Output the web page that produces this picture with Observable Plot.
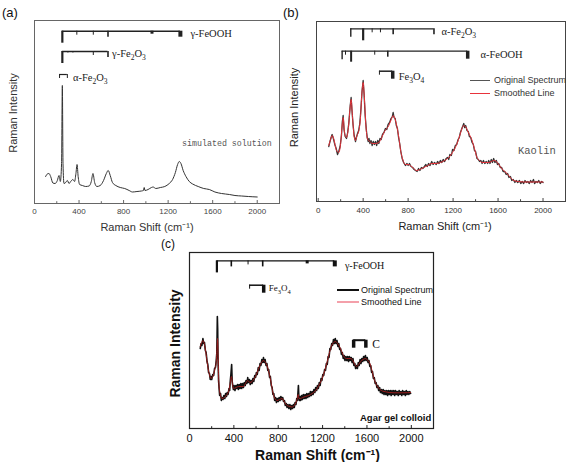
<!DOCTYPE html>
<html><head><meta charset="utf-8">
<script src="https://cdn.jsdelivr.net/npm/d3@7"></script>
<script src="https://cdn.jsdelivr.net/npm/@observablehq/plot@0.6"></script>
<style>
body{margin:0;background:#fff;}
#wrap{position:relative;width:567px;height:462px;overflow:hidden;font-family:"Liberation Sans",Arial,sans-serif;}
#wrap svg{position:absolute;}
.tag{position:absolute;font-size:13px;line-height:13px;color:#111;}
.leg{position:absolute;font-size:9px;line-height:9px;white-space:nowrap;}
.sw{position:absolute;height:0;}
</style></head><body><div id="wrap"></div>
<script>
// ---------- data ----------
const xTicks = [0, 400, 800, 1200, 1600, 2000];
const minorTicks = [200, 600, 1000, 1400, 1800];

// (a) simulated solution spectrum [wavenumber, intensity]
const specA = [[100,27],[115,29.5],[130,30],[145,27],[165,20.5],[185,20],[205,23],[220,28],[232,22],[243,40],[250,118],[256,40],[265,20],[280,21],[295,23],[310,20],[325,22],[345,24],[360,22],[372,30],[382,39],[392,27],[405,19],[430,18],[460,17],[490,17.5],[510,22],[525,30],[540,21],[560,17],[590,18],[620,23],[645,30],[662,33],[680,28],[700,21],[730,18],[770,16],[810,15],[850,13],[880,11.5],[920,12],[960,12.5],[978,13],[985,16],[992,13],[1020,14],[1050,16],[1065,16.5],[1090,15],[1130,16],[1170,17],[1210,20],[1240,24],[1265,31],[1285,39],[1300,42],[1315,40],[1335,33],[1360,27],[1390,22],[1420,19.5],[1470,17],[1520,15],[1570,14],[1620,11.5],[1680,10],[1750,9],[1800,8],[1860,7.5],[1920,7],[2000,6.5]];

// (b) kaolin: original (noisy) and smoothed spectra
const origB = [[94,55],[105,60],[115,64],[124,67],[135,63],[148,57],[160,53],[172,47],[183,50],[195,55],[207,66],[215,80],[222,86],[230,72],[240,65],[252,63],[262,69],[272,78],[285,96],[293,104],[300,92],[310,77],[320,66],[332,60],[340,64],[350,68],[360,71],[370,78],[380,92],[390,110],[400,121],[408,108],[418,86],[428,72],[436,64],[445,60],[452,63],[460,58],[470,61],[480,56],[490,60],[500,57],[510,60],[520,56],[530,61],[539,58],[550,63],[560,62],[572,67],[585,69],[598,73],[610,72],[622,77],[635,79],[648,83],[660,85],[667,89],[675,84],[685,83],[695,76],[705,73],[715,64],[725,58],[735,50],[747,43],[760,39],[776,36],[790,38],[800,36],[812,38],[826,35],[840,34],[854,32],[866,31],[880,30],[893,33],[905,31],[918,34],[930,33],[945,35],[958,37],[970,35],[982,38],[995,36],[1010,40],[1022,37],[1035,39],[1050,37],[1062,40],[1075,38],[1087,41],[1100,39],[1112,42],[1125,40],[1138,43],[1150,44],[1161,42],[1172,47],[1185,46],[1195,52],[1208,51],[1220,56],[1232,57],[1245,62],[1255,64],[1265,69],[1275,72],[1285,75],[1295,78],[1303,74],[1312,76],[1324,71],[1335,70],[1345,65],[1357,64],[1369,59],[1380,57],[1390,51],[1400,50],[1413,43],[1425,42],[1435,40],[1447,41],[1458,38],[1470,41],[1482,38],[1495,40],[1507,38],[1517,41],[1528,38],[1540,42],[1550,39],[1561,43],[1572,39],[1585,41],[1595,37],[1606,38],[1620,34],[1632,34],[1645,30],[1660,30],[1672,27],[1685,28],[1697,24],[1710,25],[1722,21],[1735,22],[1750,19],[1762,21],[1775,19],[1790,21],[1802,18],[1815,20],[1828,18],[1840,21],[1852,19],[1865,20],[1878,18],[1890,21],[1902,19],[1915,22],[1925,18],[1938,20],[1950,19],[1962,21],[1975,18],[1988,20],[2000,19]];
const specB = [[94,56],[110,62],[124,66],[140,62],[160,52],[183,49],[200,58],[215,78],[222,84],[235,68],[252,64],[270,75],[285,95],[293,102],[305,85],[320,65],[332,61],[345,66],[360,70],[375,82],[390,110],[400,119],[410,105],[425,75],[441,62],[460,60],[480,58],[510,58],[539,59],[565,64],[590,70],[628,76],[650,82],[667,86],[685,82],[702,74],[720,62],[735,50],[747,44],[776,37],[800,37],[820,36],[850,33],[874,31],[905,32],[939,34],[975,36],[1013,38],[1050,38],[1087,39],[1125,41],[1161,44],[1195,49],[1220,54],[1245,61],[1265,68],[1282,74],[1295,76],[1310,75],[1324,72],[1345,67],[1369,61],[1390,53],[1413,44],[1435,41],[1458,39],[1490,39],[1517,39],[1540,40],[1561,41],[1585,40],[1606,37],[1640,32],[1680,28],[1710,24],[1739,21],[1780,20],[1828,19.5],[1870,19.5],[1917,19.5],[1960,19.5],[2000,19.5]];

// (c) agar gel colloid: original (noisy) and smoothed spectra
const origC = [[97,80],[105,85],[112,83],[121,90],[128,85],[135,86],[143,78],[150,76],[158,67],[165,64],[172,56],[180,55],[187,49],[193,52],[200,49],[210,54],[218,53],[226,60],[234,61],[241,68],[246,75],[249,95],[251,112],[254,100],[257,72],[262,48],[267,40],[272,33],[280,35],[287,28],[293,31],[302,29],[310,33],[318,30],[326,35],[333,32],[340,36],[348,34],[356,40],[362,38],[368,48],[374,55],[380,64],[385,47],[390,43],[396,39],[402,43],[410,38],[418,43],[425,40],[433,44],[441,39],[448,44],[456,40],[463,45],[470,40],[478,45],[486,41],[494,46],[502,43],[510,48],[518,45],[525,51],[532,46],[540,49],[548,44],[556,48],[564,45],[572,50],[580,47],[588,53],[596,51],[603,56],[611,54],[620,61],[628,58],[636,65],[644,63],[652,69],[660,66],[667,71],[674,66],[682,69],[690,63],[698,65],[706,58],[714,59],[722,51],[729,52],[737,43],[745,41],[752,34],[760,35],[768,28],[776,31],[784,26],[792,30],[800,27],[808,31],[816,28],[824,32],[832,29],[840,31],[848,27],[856,28],[864,23],[872,25],[880,21],[888,24],[896,20],[905,24],[913,19],[921,23],[929,20],[937,24],[945,21],[952,26],[960,24],[967,30],[973,28],[978,36],[982,43],[986,32],[990,28],[996,32],[1003,28],[1010,33],[1018,29],[1026,34],[1034,30],[1042,34],[1050,30],[1058,35],[1066,31],[1074,35],[1082,32],[1090,37],[1098,33],[1106,37],[1114,34],[1122,39],[1130,36],[1138,41],[1146,38],[1154,43],[1162,40],[1170,46],[1178,43],[1186,50],[1194,48],[1202,54],[1210,53],[1218,59],[1226,58],[1234,65],[1242,64],[1250,72],[1258,71],[1266,80],[1274,79],[1282,85],[1290,83],[1298,89],[1306,85],[1314,90],[1322,85],[1330,88],[1338,82],[1346,85],[1354,79],[1362,80],[1370,74],[1378,76],[1386,70],[1394,73],[1402,68],[1410,72],[1418,68],[1426,72],[1434,67],[1442,72],[1450,68],[1458,71],[1466,66],[1474,70],[1482,63],[1490,65],[1498,60],[1506,63],[1514,60],[1522,66],[1530,63],[1538,69],[1546,65],[1554,70],[1562,67],[1570,72],[1578,68],[1586,73],[1594,68],[1602,71],[1610,66],[1618,68],[1626,62],[1634,63],[1642,56],[1650,57],[1658,50],[1666,51],[1674,45],[1682,46],[1690,41],[1698,43],[1706,38],[1714,41],[1722,36],[1730,39],[1738,35],[1746,39],[1754,34],[1762,38],[1770,34],[1778,38],[1786,33],[1794,38],[1802,34],[1810,38],[1818,33],[1826,38],[1834,34],[1842,38],[1850,33],[1858,38],[1866,34],[1874,37],[1882,33],[1890,38],[1898,34],[1906,37],[1914,33],[1922,38],[1930,34],[1938,37],[1946,33],[1954,38],[1962,34],[1970,37],[1978,34],[1986,37],[1994,35]];
const specC = [[97,82],[110,86],[121,88],[135,84],[150,74],[165,62],[180,54],[193,50],[210,52],[230,60],[241,66],[248,80],[253,90],[258,70],[265,45],[275,35],[293,30],[315,31],[338,34],[355,38],[368,46],[378,52],[388,44],[398,40],[420,41],[443,42],[465,42],[488,42],[505,45],[524,48],[545,46],[564,47],[585,50],[603,54],[620,59],[639,64],[655,67],[669,68],[685,66],[699,63],[714,57],[729,50],[745,40],[759,33],[775,29],[790,28],[812,29],[835,30],[858,26],[880,23],[905,22],[925,21.5],[945,23],[960,26],[972,30],[980,34],[988,30],[1000,30],[1020,31],[1046,32],[1075,33],[1106,35],[1130,37],[1151,40],[1175,45],[1196,50],[1220,58],[1242,67],[1260,75],[1278,82],[1300,86],[1317,87],[1335,85],[1353,82],[1372,77],[1392,72],[1415,70],[1437,70],[1455,70],[1473,68],[1490,64],[1507,62],[1525,64],[1543,67],[1565,69],[1588,70],[1608,68],[1627,65],[1645,58],[1663,50],[1685,44],[1708,40],[1740,37.5],[1769,36.7],[1800,36],[1844,35.7],[1890,35.7],[1934,35.7],[1994,36]];

// reference peak positions (cm-1) and relative strength codes
const aGammaFeOOH = [250, 380, 528, 660, 1055, 1310];
const aGammaFeOOHStr = [5, 1, 1, 2, 7, 3];
const aGammaFe2O3 = [250, 300, 345, 528, 660];
const aGammaFe2O3Str = [5, 0, 0, 1, 2];
const aAlphaFe2O3 = [225, 295];
const aAlphaFe2O3Str = [1, 1];

const bAlphaFe2O3 = [290, 400, 480, 554, 667, 1030];
const bAlphaFe2O3Str = [4, 5, 1, 1, 2, 2];
const bAlphaFeOOH = [213, 243, 293, 503, 619, 1330];
const bAlphaFeOOHStr = [4, 1, 8, 1, 2, 6];
const bFe3O4 = [545, 663];
const bFe3O4Str = [1, 6];

const cGammaFeOOH = [247, 377, 528, 660, 1061, 1310];
const cGammaFeOOHStr = [5, 2, 1, 2, 7, 3];
const cFe3O4 = [542, 669];
const cFe3O4Str = [1, 6];
const cCarbon = [1480, 1590];
const cCarbonStr = [6, 6];

// ---------- helpers ----------
const LEN = {0:1.5, 1:4, 2:6, 3:6, 4:8.5, 5:12, 6:8, 7:3, 8:11};
const WID = {0:1, 1:1, 2:1.6, 3:4, 4:1.4, 5:2.2, 6:3.5, 7:3, 8:2};
function bracket(peaks, str, level, color, lw) {
  const seg = [{x1: peaks[0], x2: peaks[peaks.length - 1], y: level}];
  const drops = peaks.map((p, i) => ({x: p, y1: level, y2: level - LEN[str[i]], w: WID[str[i]]}));
  return [
    Plot.ruleY(seg, {x1: "x1", x2: "x2", y: "y", stroke: color, strokeWidth: lw}),
    Plot.ruleX(drops, {x: "x", y1: "y1", y2: "y2", stroke: color, strokeWidth: "w"})
  ];
}
const serif = "Liberation Serif, Times New Roman, serif";
const mono = "Liberation Mono, Courier New, monospace";
function axisMarks(o) {
  return [
    Plot.ruleX(xTicks, {x: d => d, y1: 0, y2: o.tick, stroke: o.frame}),
    Plot.ruleX(minorTicks, {x: d => d, y1: 0, y2: o.tick * 0.6, stroke: o.frame}),
    Plot.axisX(xTicks, {tickSize: 0, tickPadding: o.pad, fontSize: o.tickFont, fill: o.tickColor, label: null, tickFormat: d => String(d)}),
    Plot.frame({stroke: o.frame, strokeWidth: o.frameW}),
    Plot.text(["Raman Shift (cm\u207B\u00B9)"], {frameAnchor: "bottom", dx: o.xlabDx, dy: o.xlabDy, lineAnchor: "middle", fontSize: o.labFont, fontWeight: o.bold ? "bold" : "normal", fill: o.labColor}),
    Plot.text(["Raman Intensity"], {frameAnchor: "left", dx: o.ylabDx, dy: o.ylabDy, rotate: -90, textAnchor: "middle", lineAnchor: "middle", fontSize: o.labFont, fontWeight: o.bold ? "bold" : "normal", fill: o.labColor})
  ];
}
// render unicode subscript digits as real lowered, smaller digits
const SUBS = "\u2080\u2081\u2082\u2083\u2084\u2085\u2086\u2087\u2088\u2089";
function subscriptify(svg) {
  svg.querySelectorAll("text").forEach(t => {
    const s = t.textContent;
    if (![...s].some(c => SUBS.includes(c))) return;
    const fs = parseFloat(getComputedStyle(t).fontSize) || 10;
    const shift = fs * 0.28;
    t.textContent = "";
    let prevSub = false;
    for (const ch of s) {
      const isSub = SUBS.includes(ch);
      const ts = document.createElementNS("http://www.w3.org/2000/svg", "tspan");
      ts.textContent = isSub ? String(SUBS.indexOf(ch)) : ch;
      if (isSub) { ts.setAttribute("font-size", (fs * 0.72) + "px"); if (!prevSub) ts.setAttribute("dy", shift); }
      else if (prevSub) ts.setAttribute("dy", -shift);
      t.appendChild(ts);
      prevSub = isSub;
    }
  });
}
function place(svg, left, top) {
  svg.style.left = left + "px"; svg.style.top = top + "px";
  document.getElementById("wrap").appendChild(svg);
  subscriptify(svg);
}
const baseStyle = {fontFamily: "Liberation Sans, Arial, sans-serif", background: "transparent", overflow: "visible"};

// ---------- panel (a) ----------
const pA = Plot.plot({
  width: 290, height: 232, marginLeft: 34, marginRight: 11, marginTop: 20, marginBottom: 29,
  style: baseStyle,
  x: {domain: [0, 2200], label: null},
  y: {domain: [0, 183], axis: null},
  marks: [
    ...axisMarks({tick: 3, frame: "#666", frameW: 1, pad: 5, tickFont: 8, tickColor: "#444", labFont: 11, labColor: "#333", xlabDx: -10, xlabDy: 24, ylabDx: -21, ylabDy: 1, bold: false}),
    Plot.line(specA, {x: d => d[0], y: d => d[1], stroke: "#333", strokeWidth: 1, curve: "monotone-x"}),
    ...bracket(aGammaFeOOH, aGammaFeOOHStr, 172.3, "#222", 1.6),
    ...bracket(aGammaFe2O3, aGammaFe2O3Str, 152, "#222", 1.6),
    ...bracket(aAlphaFe2O3, aAlphaFe2O3Str, 129, "#222", 1.2),
    Plot.text(["\u03B3-FeOOH"], {x: 1400, y: 170, textAnchor: "start", lineAnchor: "middle", fontFamily: serif, fontSize: 10.5, fill: "#222"}),
    Plot.text(["\u03B3-Fe\u2082O\u2083"], {x: 696, y: 150, textAnchor: "start", lineAnchor: "middle", fontFamily: serif, fontSize: 10.5, fill: "#222"}),
    Plot.text(["\u03B1-Fe\u2082O\u2083"], {x: 345, y: 126, textAnchor: "start", lineAnchor: "middle", fontFamily: serif, fontSize: 10.5, fill: "#222"}),
    Plot.text(["simulated solution"], {x: 1325, y: 60, textAnchor: "start", lineAnchor: "middle", fontFamily: mono, fontSize: 8.3, fill: "#555"})
  ]
});
place(pA, 0, 0);

// ---------- panel (b) ----------
const pB = Plot.plot({
  width: 287, height: 232, marginLeft: 36, marginRight: 2, marginTop: 21, marginBottom: 31,
  style: baseStyle,
  x: {domain: [-15, 2200], label: null},
  y: {domain: [0, 180], axis: null},
  marks: [
    ...axisMarks({tick: 3, frame: "#444", frameW: 1, pad: 5.5, tickFont: 8, tickColor: "#333", labFont: 11, labColor: "#222", xlabDx: 4, xlabDy: 25, ylabDx: -22, ylabDy: -4, bold: false}),
    Plot.line(origB, {x: d => d[0], y: d => d[1], stroke: "#333", strokeWidth: 1.3, curve: "linear"}),
    Plot.line(specB, {x: d => d[0], y: d => d[1], stroke: "#e8333b", strokeWidth: 1, curve: "monotone-x"}),
    ...bracket(bAlphaFe2O3, bAlphaFe2O3Str, 172.7, "#222", 1.3),
    ...bracket(bAlphaFeOOH, bAlphaFeOOHStr, 150.3, "#222", 1.3),
    ...bracket(bFe3O4, bFe3O4Str, 130.3, "#222", 1.5),
    Plot.text(["\u03B1-Fe\u2082O\u2083"], {x: 1096, y: 170, textAnchor: "start", lineAnchor: "middle", fontFamily: serif, fontSize: 10.5, fill: "#222"}),
    Plot.text(["\u03B1-FeOOH"], {x: 1443, y: 147, textAnchor: "start", lineAnchor: "middle", fontFamily: serif, fontSize: 10.5, fill: "#222"}),
    Plot.text(["Fe\u2083O\u2084"], {x: 716, y: 125, textAnchor: "start", lineAnchor: "middle", fontFamily: serif, fontSize: 10.5, fill: "#222"}),
    Plot.text(["Kaolin"], {x: 1777, y: 51, textAnchor: "start", lineAnchor: "middle", fontFamily: mono, fontSize: 10.5, fill: "#555"})
  ]
});
place(pB, 280, 0);

// ---------- panel (c) ----------
const pC = Plot.plot({
  width: 300, height: 227, marginLeft: 49, marginRight: 7, marginTop: 17, marginBottom: 34,
  style: baseStyle,
  x: {domain: [0, 2200], label: null},
  y: {domain: [0, 176], axis: null},
  marks: [
    ...axisMarks({tick: 3, frame: "#222", frameW: 1.2, pad: 5.5, tickFont: 11, tickColor: "#111", labFont: 14, labColor: "#111", xlabDx: 6, xlabDy: 27, ylabDx: -14, ylabDy: 3, bold: true}),
    Plot.line(origC, {x: d => d[0], y: d => d[1], stroke: "#111", strokeWidth: 1.6, curve: "linear"}),
    Plot.line(specC, {x: d => d[0], y: d => d[1], stroke: "#9b1c1c", strokeWidth: 1, curve: "monotone-x"}),
    ...bracket(cGammaFeOOH, cGammaFeOOHStr, 167.6, "#111", 1.4),
    ...bracket(cFe3O4, cFe3O4Str, 143.3, "#111", 1.5),
    ...bracket(cCarbon, cCarbonStr, 88.3, "#111", 2),
    Plot.text(["\u03B3-FeOOH"], {x: 1401, y: 163, textAnchor: "start", lineAnchor: "middle", fontFamily: serif, fontSize: 10, fill: "#111"}),
    Plot.text(["Fe\u2083O\u2084"], {x: 714, y: 140, textAnchor: "start", lineAnchor: "middle", fontFamily: serif, fontSize: 9, fill: "#111"}),
    Plot.text(["C"], {x: 1648, y: 84, textAnchor: "start", lineAnchor: "middle", fontFamily: serif, fontSize: 11.5, fill: "#111"}),
    Plot.text(["Agar gel colloid"], {x: 1537, y: 11, textAnchor: "start", lineAnchor: "middle", fontSize: 9.5, fontWeight: "bold", fill: "#111"})
  ]
});
place(pC, 140, 235);

// ---------- tags & legends ----------
const wrap = document.getElementById("wrap");
function add(html) { wrap.insertAdjacentHTML("beforeend", html); }
add('<div class="tag" style="left:2px;top:6px">(a)</div>');
add('<div class="tag" style="left:283px;top:6px">(b)</div>');
add('<div class="tag" style="left:161px;top:238px;font-size:12px">(c)</div>');
// legend (b)
add('<div class="sw" style="left:470px;top:80px;width:20px;border-top:1.5px solid #555"></div>');
add('<div class="leg" style="left:494px;top:76px;color:#333">Original Spectrum</div>');
add('<div class="sw" style="left:470px;top:93px;width:20px;border-top:1.5px solid #e8333b"></div>');
add('<div class="leg" style="left:494px;top:89px;color:#333">Smoothed Line</div>');
// legend (c)
add('<div class="sw" style="left:337px;top:289px;width:22px;border-top:2px solid #111"></div>');
add('<div class="leg" style="left:361px;top:285.5px;color:#111">Original Spectrum</div>');
add('<div class="sw" style="left:337px;top:301px;width:22px;border-top:2px solid #f4a0aa"></div>');
add('<div class="leg" style="left:361px;top:298px;color:#111">Smoothed Line</div>');
</script></body></html>
